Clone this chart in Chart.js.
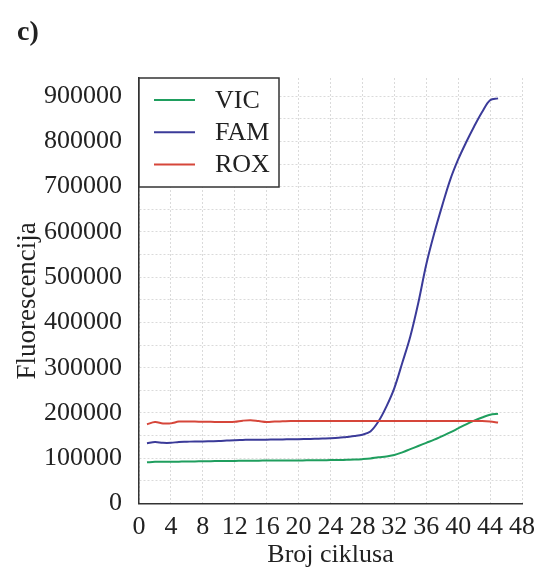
<!DOCTYPE html>
<html>
<head>
<meta charset="utf-8">
<script src="https://cdn.jsdelivr.net/npm/chart.js@4.4.1/dist/chart.umd.min.js"></script>
<style>
  html, body { margin: 0; padding: 0; background: #fff; }
  #wrap { width: 543px; height: 572px; }
</style>
</head>
<body>
<div id="wrap"><canvas id="chart" width="543" height="572"></canvas></div>
<script>
  // Ciklusi (x)
  const cycles = [1, 2, 3, 4, 5, 6, 7, 8, 9, 10, 11, 12, 13, 14, 15, 16, 17, 18, 19, 20,
    21, 22, 23, 24, 25, 26, 27, 28, 29, 30, 31, 32, 33, 34, 35, 36, 37, 38, 39, 40,
    41, 42, 43, 44, 45];

  // Fluorescencija po kanalu
  const vic = [91000, 92000, 92000, 92000, 92500, 93000, 93000, 93500, 93500, 94000,
    94000, 94000, 94500, 94500, 94500, 95000, 95000, 95000, 95000, 95000,
    95500, 95500, 95500, 96000, 96000, 96500, 97000, 98000, 99500, 102000,
    104000, 107000, 113000, 120000, 127000, 134000, 141000, 149000, 157000, 166000,
    175000, 183000, 190000, 196000, 198000];

  const fam = [133000, 136000, 134000, 134000, 136000, 136500, 137000, 137000, 137500, 138000,
    139000, 140000, 140500, 141000, 141000, 141000, 141500, 141500, 142000, 142000,
    142500, 143000, 143500, 144000, 145000, 147000, 149000, 152000, 159000, 181000,
    214000, 255000, 311000, 369000, 443000, 528000, 597000, 658000, 715000, 760000,
    798000, 833000, 865000, 891000, 895000];

  const rox = [175000, 180000, 177000, 177000, 181000, 181000, 181000, 180500, 180500, 180000,
    180000, 180500, 183000, 184000, 182000, 180000, 181000, 181500, 182000, 182000,
    182000, 182000, 182000, 182000, 182000, 182000, 182000, 182000, 182000, 182000,
    182000, 182000, 182000, 182000, 182000, 182000, 182000, 182000, 182000, 182000,
    182000, 182000, 182000, 181000, 179000];

  // Mreža po y (svaka druga linija nosi oznaku)
  const yGrid = [0, 50000, 100000, 150000, 200000, 250000, 300000, 350000, 400000, 450000,
    500000, 550000, 600000, 650000, 700000, 750000, 800000, 850000, 900000];

  const seriesNames = ['VIC', 'FAM', 'ROX'];
  const seriesColors = ['#1f9e5e', '#3b3b99', '#d6463a'];

  const FONT = '"Liberation Serif", "Times New Roman", serif';
  const TEXT = '#222';
  const GRID = '#dadada';

  function toPoints(values) {
    return cycles.map((c, i) => ({ x: c, y: values[i] }));
  }

  // Legenda u okviru, gore lijevo unutar grafika
  const boxedLegend = {
    id: 'boxedLegend',
    afterDatasetsDraw(chart) {
      const { ctx, chartArea } = chart;
      const x = chartArea.left, y = chartArea.top;
      const w = 140, h = 109;
      ctx.save();
      ctx.fillStyle = '#fff';
      ctx.fillRect(x, y, w, h);
      ctx.strokeStyle = '#333';
      ctx.lineWidth = 1.5;
      ctx.strokeRect(x, y, w, h);
      ctx.font = '26px ' + FONT;
      ctx.textBaseline = 'middle';
      chart.data.datasets.forEach((ds, i) => {
        const cy = y + 22 + i * 32.2;
        ctx.strokeStyle = ds.borderColor;
        ctx.lineWidth = 2;
        ctx.beginPath();
        ctx.moveTo(x + 15, cy);
        ctx.lineTo(x + 56, cy);
        ctx.stroke();
        ctx.fillStyle = TEXT;
        ctx.fillText(ds.label, x + 76, cy + 1);
      });
      ctx.restore();
    }
  };

  const datasets = [vic, fam, rox].map((vals, i) => ({
    label: seriesNames[i],
    data: toPoints(vals),
    borderColor: seriesColors[i],
    borderWidth: 2,
    pointRadius: 0,
    fill: false,
    tension: 0.35,
    order: 2 - i
  }));

  new Chart(document.getElementById('chart'), {
    type: 'line',
    data: { datasets },
    plugins: [boxedLegend],
    options: {
      responsive: false,
      animation: false,
      layout: { padding: { left: 17, top: 0, right: 16, bottom: 0 } },
      plugins: {
        legend: { display: false },
        tooltip: { enabled: false },
        title: {
          display: true,
          text: 'c)',
          align: 'start',
          color: TEXT,
          font: { family: FONT, size: 28, weight: 'bold', lineHeight: 1.2 },
          padding: { top: 16, bottom: 28.4 }
        }
      },
      scales: {
        x: {
          type: 'linear',
          min: 0,
          max: 48,
          afterFit: (s) => { s.height = 68.5; },
          ticks: {
            stepSize: 4,
            autoSkip: false,
            maxRotation: 0,
            padding: 8,
            color: TEXT,
            font: { family: FONT, size: 26 }
          },
          grid: { color: GRID, lineWidth: 1, drawTicks: false },
          border: { color: '#333', width: 1.5, dash: [2, 2] },
          title: {
            display: true,
            text: 'Broj ciklusa',
            color: TEXT,
            font: { family: FONT, size: 26, lineHeight: 1.2 },
            padding: { top: 0, bottom: 1 }
          }
        },
        y: {
          min: 0,
          max: 940000,
          afterFit: (s) => { s.width = 122; },
          afterBuildTicks: (s) => {
            s.ticks = yGrid.map(v => ({ value: v }));
          },
          ticks: {
            autoSkip: false,
            padding: 17,
            color: TEXT,
            font: { family: FONT, size: 26 },
            callback: (v) => (Math.round(v) % 100000 === 0 ? String(Math.round(v)) : '')
          },
          grid: { color: GRID, lineWidth: 1, drawTicks: false },
          border: { color: '#333', width: 1.5, dash: [2, 2] },
          title: {
            display: true,
            text: 'Fluorescencija   ',
            color: TEXT,
            font: { family: FONT, size: 27, lineHeight: 0.8 },
            padding: { top: 0, bottom: 0 }
          }
        }
      }
    }
  });
</script>
</body>
</html>
